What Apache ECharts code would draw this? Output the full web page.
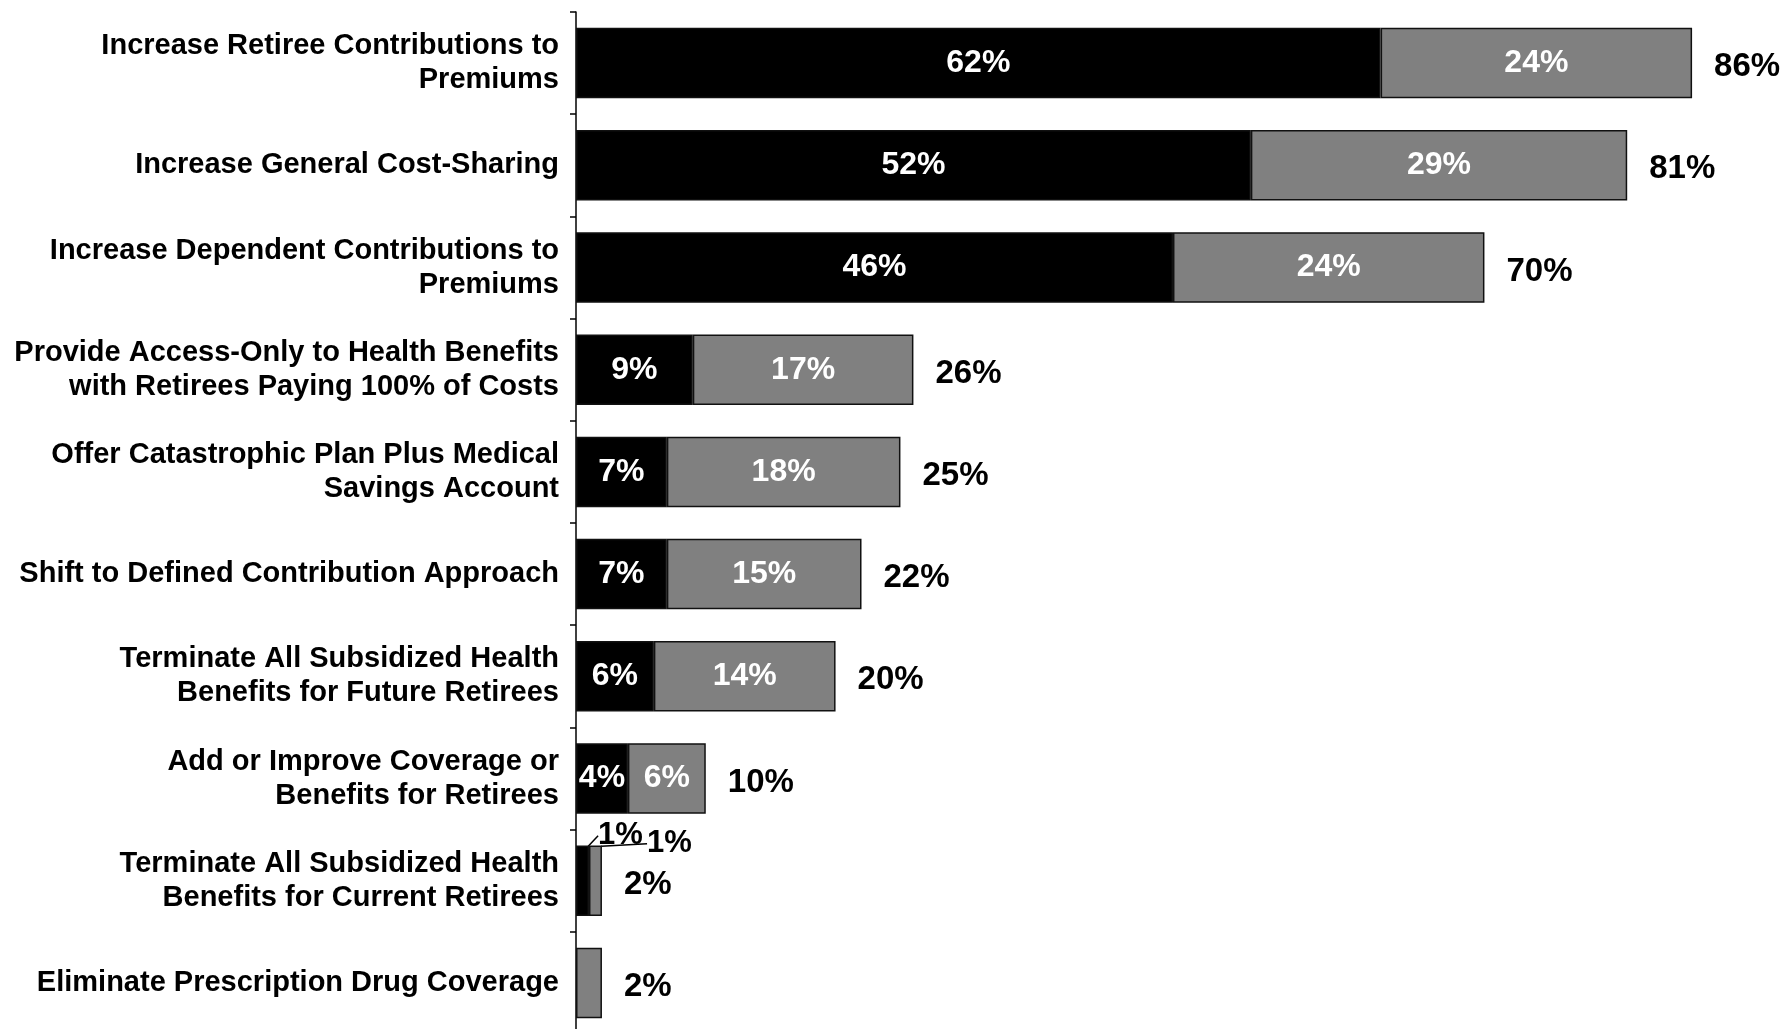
<!DOCTYPE html>
<html>
<head>
<meta charset="utf-8">
<script src="https://cdn.jsdelivr.net/npm/echarts@6/dist/echarts.min.js"></script>
<style>
html,body{margin:0;padding:0;background:#fff;}
#chart{width:1788px;height:1029px;}
</style>
</head>
<body>
<div id="chart"></div>
<script>
const categories = [
  "Increase Retiree Contributions to\nPremiums",
  "Increase General Cost-Sharing",
  "Increase Dependent Contributions to\nPremiums",
  "Provide Access-Only to Health Benefits\nwith Retirees Paying 100% of Costs",
  "Offer Catastrophic Plan Plus Medical\nSavings Account",
  "Shift to Defined Contribution Approach",
  "Terminate All Subsidized Health\nBenefits for Future Retirees",
  "Add or Improve Coverage or\nBenefits for Retirees",
  "Terminate All Subsidized Health\nBenefits for Current Retirees",
  "Eliminate Prescription Drug Coverage"
];
const blackValues = [62, 52, 46, 9, 7, 7, 6, 4, 1, 0];
const grayValues  = [24, 29, 24, 17, 18, 15, 14, 6, 1, 2];
const totalValues = [86, 81, 70, 26, 25, 22, 20, 10, 2, 2];
// row whose segment labels are pulled out with a leader line
const calloutRow = 8;
// row whose segment labels are not shown inside the bar
const hiddenInsideRow = 9;

const FONT = "'Liberation Sans', Arial, Helvetica, sans-serif";

function segData(vals) {
  return vals.map((v, i) => {
    const item = { value: v };
    if (v === 0) {
      item.itemStyle = { borderWidth: 0 };
      item.label = { show: false };
    } else if (i === hiddenInsideRow) {
      item.label = { show: false };
    } else if (i === calloutRow) {
      item.label = { color: '#000', fontSize: 31, offset: [0, 0] };
      item.labelLine = { show: true, lineStyle: { color: '#000', width: 1.5 } };
    }
    return item;
  });
}

const chart = echarts.init(document.getElementById('chart'), null, { renderer: 'canvas' });

const option = {
  animation: false,
  backgroundColor: '#ffffff',
  grid: { left: 576, right: 44, top: 12, bottom: -5, containLabel: false, outerBoundsMode: 'none' },
  xAxis: {
    type: 'value', min: 0, max: 90,
    show: false, splitLine: { show: false }
  },
  yAxis: {
    type: 'category',
    data: categories,
    inverse: true,
    axisLine: { show: true, lineStyle: { color: '#000', width: 1.5 } },
    axisTick: { show: true, length: 6, lineStyle: { color: '#000', width: 1.5 } },
    axisLabel: {
      margin: 17,
      color: '#000',
      fontFamily: FONT,
      fontWeight: 'bold',
      fontSize: 29,
      lineHeight: 34,
      padding: [8, 0, 0, 0],
      align: 'right'
    }
  },
  series: [
    {
      name: 'Black', type: 'bar', stack: 'total',
      barCategoryGap: '31%',
      data: segData(blackValues),
      itemStyle: { color: '#000000', borderColor: '#111', borderWidth: 1.5 },
      label: {
        show: true, position: 'inside', color: '#fff',
        fontFamily: FONT, fontWeight: 'bold', fontSize: 32,
        offset: [0, 4],
        formatter: p => p.value + '%'
      },
      labelLine: { show: false },
      labelLayout: p => p.dataIndex === calloutRow ? { dx: 38, dy: -45 } : {}
    },
    {
      name: 'Gray', type: 'bar', stack: 'total',
      barCategoryGap: '31%',
      data: segData(grayValues),
      itemStyle: { color: '#808080', borderColor: '#111', borderWidth: 1.5 },
      label: {
        show: true, position: 'inside', color: '#fff',
        fontFamily: FONT, fontWeight: 'bold', fontSize: 32,
        offset: [0, 4],
        formatter: p => p.value + '%'
      },
      labelLine: { show: false },
      labelLayout: p => p.dataIndex === calloutRow ? { dx: 74, dy: -37 } : {}
    },
    {
      name: 'Total', type: 'bar',
      barGap: '-100%',
      barCategoryGap: '31%',
      data: totalValues,
      z: 1,
      itemStyle: { color: 'rgba(0,0,0,0)', borderWidth: 0 },
      label: {
        show: true, position: 'right', distance: 22, color: '#000',
        fontFamily: FONT, fontWeight: 'bold', fontSize: 33,
        offset: [0, 4],
        formatter: p => p.value + '%'
      },
      emphasis: { disabled: true }
    }
  ]
};
chart.setOption(option);
</script>
</body>
</html>
